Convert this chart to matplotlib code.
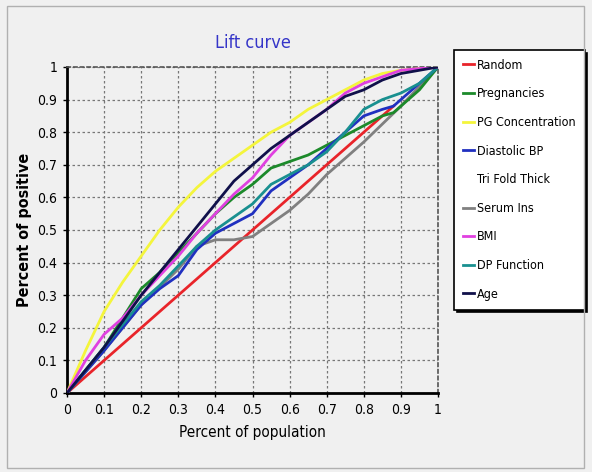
import matplotlib.pyplot as plt
from matplotlib.patches import Rectangle
from matplotlib.ticker import FormatStrFormatter, MultipleLocator

# lift curves
random_x = [0, 0.88]
random_y = [0, 0.88]

preg_x = [0, 0.05, 0.1, 0.15, 0.2, 0.25, 0.3, 0.35, 0.4, 0.45, 0.5, 0.55, 0.6, 0.65, 0.7, 0.75, 0.8, 0.85, 0.88, 0.95, 1]
preg_y = [0, 0.07, 0.14, 0.23, 0.32, 0.37, 0.43, 0.49, 0.55, 0.6, 0.64, 0.69, 0.71, 0.73, 0.76, 0.79, 0.82, 0.85, 0.86, 0.93, 1]

pg_x = [0, 0.05, 0.1, 0.15, 0.2, 0.25, 0.3, 0.35, 0.4, 0.45, 0.5, 0.55, 0.6, 0.65, 0.7, 0.75, 0.8, 0.85, 0.9, 1]
pg_y = [0, 0.13, 0.25, 0.34, 0.42, 0.5, 0.57, 0.63, 0.68, 0.72, 0.76, 0.8, 0.83, 0.87, 0.9, 0.93, 0.96, 0.98, 0.99, 1]

dbp_x = [0, 0.1, 0.2, 0.25, 0.3, 0.35, 0.4, 0.45, 0.5, 0.55, 0.6, 0.65, 0.7, 0.75, 0.8, 0.85, 0.88, 0.9, 0.95, 1]
dbp_y = [0, 0.13, 0.27, 0.32, 0.36, 0.44, 0.49, 0.52, 0.55, 0.62, 0.66, 0.7, 0.75, 0.8, 0.85, 0.87, 0.88, 0.9, 0.95, 1]

tri_x = [0, 0.5, 1]
tri_y = [0, 0.5, 1]

serum_x = [0, 0.1, 0.2, 0.3, 0.35, 0.4, 0.45, 0.5, 0.55, 0.6, 0.65, 0.7, 0.8, 0.9, 1]
serum_y = [0, 0.13, 0.27, 0.38, 0.45, 0.47, 0.47, 0.48, 0.52, 0.56, 0.61, 0.67, 0.77, 0.88, 1]

bmi_x = [0, 0.05, 0.1, 0.15, 0.2, 0.25, 0.3, 0.35, 0.4, 0.45, 0.5, 0.55, 0.6, 0.65, 0.7, 0.75, 0.8, 0.85, 0.9, 1]
bmi_y = [0, 0.1, 0.18, 0.23, 0.3, 0.36, 0.42, 0.49, 0.55, 0.61, 0.66, 0.73, 0.79, 0.83, 0.87, 0.92, 0.95, 0.97, 0.99, 1]

dpf_x = [0, 0.1, 0.2, 0.25, 0.3, 0.35, 0.4, 0.45, 0.5, 0.55, 0.6, 0.65, 0.7, 0.75, 0.8, 0.85, 0.9, 0.95, 1]
dpf_y = [0, 0.14, 0.28, 0.33, 0.39, 0.45, 0.5, 0.54, 0.58, 0.64, 0.67, 0.7, 0.74, 0.8, 0.87, 0.9, 0.92, 0.95, 1]

age_x = [0, 0.1, 0.2, 0.25, 0.3, 0.35, 0.4, 0.45, 0.5, 0.55, 0.6, 0.65, 0.7, 0.75, 0.8, 0.85, 0.9, 0.95, 1]
age_y = [0, 0.14, 0.3, 0.37, 0.44, 0.51, 0.58, 0.65, 0.7, 0.75, 0.79, 0.83, 0.87, 0.91, 0.93, 0.96, 0.98, 0.99, 1]

names = ["Random", "Pregnancies", "PG Concentration", "Diastolic BP", "Tri Fold Thick",
         "Serum Ins", "BMI", "DP Function", "Age"]
colors = ["#e8242a", "#1c8a2a", "#f4f53c", "#2030c0", "#ffffff",
          "#808080", "#e040e0", "#199090", "#10104a"]
xs = [random_x, preg_x, pg_x, dbp_x, tri_x, serum_x, bmi_x, dpf_x, age_x]
ys = [random_y, preg_y, pg_y, dbp_y, tri_y, serum_y, bmi_y, dpf_y, age_y]
zorders = [3, 4, 3, 4, 1, 3, 5, 4, 6]

plt.rcParams['font.family'] = ['DejaVu Sans']
plt.rcParams['font.stretch'] = 'condensed'

fig = plt.figure(figsize=(5.92, 4.72), dpi=100, facecolor="#f0f0f0")
fig.patches.append(Rectangle((7 / 592, 4 / 472), 577 / 592, 462 / 472, transform=fig.transFigure,
                             fill=False, edgecolor="#b0b0b0", linewidth=1))
ax = fig.add_axes([67 / 592, 79 / 472, 371 / 592, 326 / 472])
ax.set_facecolor("#f0f0f0")

for x, y, name, c, z in zip(xs, ys, names, colors, zorders):
    ax.plot(x, y, color=c, lw=2, label=name, zorder=z)

ax.set_xlim(0, 1)
ax.set_ylim(0, 1)
ax.xaxis.set_major_locator(MultipleLocator(0.1))
ax.yaxis.set_major_locator(MultipleLocator(0.1))
ax.xaxis.set_major_formatter(FormatStrFormatter('%g'))
ax.yaxis.set_major_formatter(FormatStrFormatter('%g'))
ax.tick_params(labelsize=10, length=3, width=1, pad=4)
ax.grid(True, color="#777777", linestyle=(0, (2, 2)), lw=0.9)

for s in ["left", "bottom"]:
    ax.spines[s].set_linewidth(2)
    ax.spines[s].set_color("black")
for s in ["top", "right"]:
    ax.spines[s].set_linestyle((0, (2, 2)))
    ax.spines[s].set_color("#555555")
    ax.spines[s].set_linewidth(1.2)

ax.set_title("Lift curve", color="#3535c8", fontsize=13, pad=14)
ax.set_xlabel("Percent of population", fontsize=11, labelpad=6)
ax.set_ylabel("Percent of positive", fontsize=11.5, fontweight="heavy", labelpad=4)

leg = ax.legend(loc="upper left", bbox_to_anchor=(454 / 592, 422 / 472), bbox_transform=fig.transFigure,
                fontsize=9, frameon=True, fancybox=False, shadow={'color': 'black', 'alpha': 1},
                edgecolor="black", handlelength=0.9, handletextpad=0.25, labelspacing=1.25,
                borderpad=0.7, borderaxespad=0)
leg.get_frame().set_linewidth(1.2)

fig.savefig("out.png", dpi=100, facecolor=fig.get_facecolor())
